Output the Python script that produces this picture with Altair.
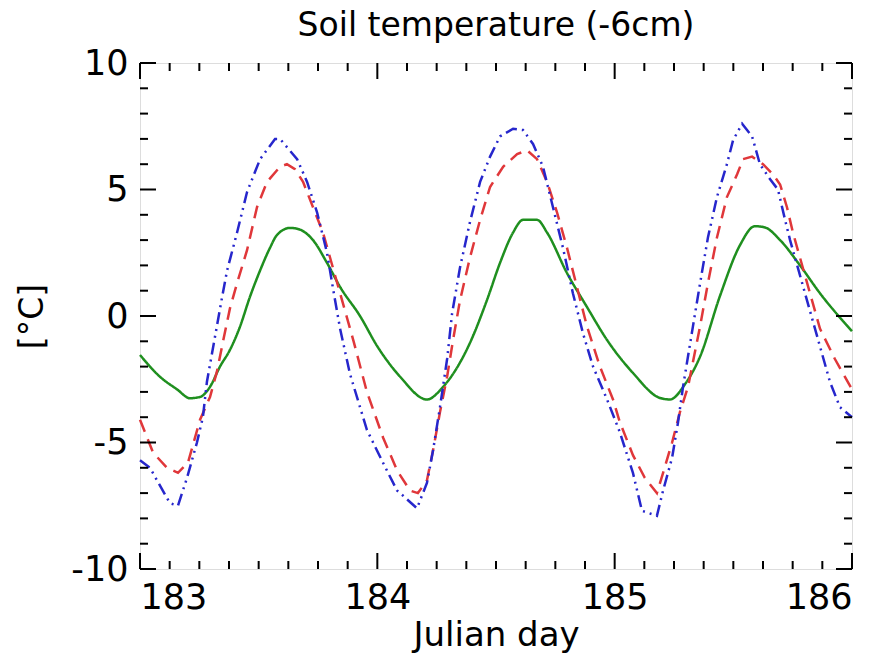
import altair as alt
import pandas as pd

# ---------------- data ----------------
blue_day = [183.000, 183.042, 183.126, 183.160, 183.198, 183.240, 183.265, 183.282, 183.324, 183.346,
            183.367, 183.409, 183.451, 183.506, 183.569, 183.590, 183.662, 183.704, 183.746, 183.788,
            183.813, 183.843, 183.885, 183.956, 184.024, 184.083, 184.096, 184.167, 184.209, 184.235,
            184.264, 184.294, 184.315, 184.348, 184.390, 184.433, 184.475, 184.517, 184.572, 184.614,
            184.656, 184.698, 184.740, 184.782, 184.824, 184.867, 184.909, 184.968, 185.022, 185.077,
            185.115, 185.178, 185.204, 185.242, 185.267, 185.288, 185.330, 185.360, 185.393, 185.431,
            185.473, 185.499, 185.537, 185.579, 185.612, 185.655, 185.688, 185.718, 185.739, 185.823,
            185.907, 185.949, 186.000]
blue_temp = [-5.7, -6.0, -7.4, -7.5, -6.4, -5.0, -4.0, -2.6, -0.4, 0.75,
             1.8, 3.3, 4.9, 6.2, 7.0, 7.0, 6.2, 5.3, 4.1, 2.5,
             1.1, -0.5, -2.3, -4.5, -5.8, -6.9, -7.0, -7.6, -6.6, -5.3,
             -3.6, -1.7, 0.1, 1.9, 3.7, 5.3, 6.3, 7.1, 7.4, 7.35,
             6.8, 5.9, 4.3, 2.7, 0.9, -0.7, -2.0, -3.3, -4.6, -6.2,
             -7.7, -7.9, -6.9, -5.6, -4.2, -2.8, -0.4, 1.3, 3.1, 4.7,
             6.0, 6.95, 7.6, 7.1, 6.0, 5.4, 5.0, 3.8, 3.0, 0.2,
             -2.6, -3.6, -4.0]

red_day = [183.000, 183.055, 183.114, 183.160, 183.202, 183.253, 183.295, 183.324, 183.350, 183.379,
           183.409, 183.451, 183.493, 183.535, 183.590, 183.619, 183.653, 183.687, 183.729, 183.771,
           183.813, 183.843, 183.900, 183.956, 184.024, 184.083, 184.138, 184.171, 184.209, 184.235,
           184.264, 184.294, 184.319, 184.348, 184.390, 184.433, 184.475, 184.530, 184.589, 184.631,
           184.673, 184.715, 184.757, 184.799, 184.841, 184.883, 184.938, 184.993, 185.022, 185.077,
           185.127, 185.178, 185.204, 185.242, 185.275, 185.309, 185.360, 185.393, 185.431, 185.473,
           185.516, 185.541, 185.579, 185.625, 185.667, 185.697, 185.726, 185.751, 185.865, 185.928,
           186.000]
red_temp = [-4.1, -5.4, -6.0, -6.2, -5.8, -4.1, -3.2, -2.2, -1.0, 0.3,
            1.3, 2.6, 4.3, 5.3, 5.9, 6.0, 5.8, 5.3, 4.3, 3.3,
            1.9, 0.9, -1.0, -3.0, -4.8, -6.1, -6.9, -7.0, -6.5, -5.3,
            -3.8, -2.4, -0.95, 0.6, 2.3, 3.8, 5.1, 5.9, 6.4, 6.55,
            6.2, 5.3, 4.1, 2.7, 1.15, -0.4, -2.0, -3.3, -4.2, -5.5,
            -6.4, -7.0, -6.2, -5.0, -3.8, -2.8, -0.4, 1.3, 3.1, 4.7,
            5.6, 6.2, 6.3, 6.0, 5.6, 5.2, 4.3, 3.3, -0.5, -1.7,
            -2.9]

green_day = [183.000, 183.084, 183.156, 183.211, 183.253, 183.295, 183.337, 183.379, 183.421, 183.463,
             183.506, 183.548, 183.577, 183.632, 183.662, 183.729, 183.788, 183.843, 183.927, 184.000,
             184.096, 184.209, 184.277, 184.390, 184.462, 184.517, 184.572, 184.614, 184.673, 184.715,
             184.799, 184.883, 184.968, 185.077, 185.191, 185.233, 185.296, 185.360, 185.444, 185.528,
             185.591, 185.633, 185.697, 185.781, 185.865, 186.000]
green_temp = [-1.54, -2.4, -2.9, -3.25, -3.2, -2.8, -2.0, -1.34, -0.43, 0.75,
              1.8, 2.7, 3.2, 3.48, 3.45, 3.0, 2.1, 1.15, 0.0, -1.2,
              -2.4, -3.3, -2.8, -1.07, 0.63, 2.1, 3.3, 3.8, 3.8, 3.3,
              1.7, 0.36, -0.95, -2.25, -3.24, -3.3, -2.7, -1.6, 0.8, 2.8,
              3.55, 3.5, 3.0, 2.0, 0.9, -0.6]

x_major = [183, 184, 185, 186]
x_minor = [183.125, 183.25, 183.375, 183.5, 183.625, 183.75, 183.875,
           184.125, 184.25, 184.375, 184.5, 184.625, 184.75, 184.875,
           185.125, 185.25, 185.375, 185.5, 185.625, 185.75, 185.875]
y_major = [-10, -5, 0, 5, 10]
y_minor = [-9, -8, -7, -6, -4, -3, -2, -1, 1, 2, 3, 4, 6, 7, 8, 9]

# ---------------- styling ----------------
W, H = 712, 506
FONT = "DejaVu Sans"
MAJ, MIN = 16, 8

blue_df = pd.DataFrame({"day": blue_day, "temp": blue_temp})
red_df = pd.DataFrame({"day": red_day, "temp": red_temp})
green_df = pd.DataFrame({"day": green_day, "temp": green_temp})

xs = alt.Scale(domain=[183, 186], nice=False, zero=False)
ys = alt.Scale(domain=[-10, 10], nice=False, zero=False)

x_axis = alt.Axis(values=x_major, labelExpr="'' + datum.value", title="Julian day", ticks=False, tickSize=0,
                  domain=False, grid=False, labelPadding=11, labelFontSize=35, labelFont=FONT,
                  labelColor="black", titleFont=FONT, titleFontSize=34, titleFontWeight="normal",
                  titleColor="black", titleX=W / 2, titleY=76, titleBaseline="alphabetic",
                  titleAlign="center")
y_axis = alt.Axis(values=y_major, labelExpr="'' + datum.value", title="[°C]", ticks=False, tickSize=0,
                  domain=False, grid=False, labelPadding=12, labelFontSize=35, labelFont=FONT,
                  labelColor="black", titleFont=FONT, titleFontSize=33, titleFontWeight="normal",
                  titleColor="black", titleX=-108, titleY=H / 2, titleAngle=-90,
                  titleBaseline="middle", titleAlign="center")


def series(df, color, dash, interp):
    m = alt.Chart(df).mark_line(color=color, strokeWidth=2.5, strokeDash=dash,
                                interpolate=interp, strokeCap="butt")
    return m.encode(
        x=alt.X("day:Q", scale=xs, axis=x_axis),
        y=alt.Y("temp:Q", scale=ys, axis=y_axis),
    )


green = series(green_df, "#1f8f1f", [1, 0], "monotone")
red = series(red_df, "#e0373a", [13, 8], "linear")
blue = series(blue_df, "#2626cc", [12, 5, 2, 5, 2, 5], "linear")


def xticks(vals, length):
    df = pd.DataFrame({"day": vals})
    base = alt.Chart(df).mark_rule(color="black", strokeWidth=2)
    bottom = base.encode(x=alt.X("day:Q", scale=xs, axis=x_axis), y=alt.value(H), y2=alt.value(H - length))
    top = base.encode(x=alt.X("day:Q", scale=xs, axis=x_axis), y=alt.value(0), y2=alt.value(length))
    return [bottom, top]


def yticks(vals, length):
    df = pd.DataFrame({"temp": vals})
    base = alt.Chart(df).mark_rule(color="black", strokeWidth=2)
    left = base.encode(y=alt.Y("temp:Q", scale=ys, axis=y_axis), x=alt.value(0), x2=alt.value(length))
    right = base.encode(y=alt.Y("temp:Q", scale=ys, axis=y_axis), x=alt.value(W), x2=alt.value(W - length))
    return [left, right]


layers = [green, red, blue] + xticks(x_major, MAJ) + xticks(x_minor, MIN) + yticks(y_major, MAJ) + yticks(y_minor, MIN)

chart = alt.layer(*layers).properties(
    width=W, height=H,
    title=alt.TitleParams("Soil temperature (-6cm)", font=FONT, fontSize=33, fontWeight="normal",
                          color="black", anchor="middle", offset=26, baseline="alphabetic",
                          frame="group", dy=49),
    autosize=alt.AutoSizeParams(type="none"),
    padding={"left": 140, "top": 63, "right": 34, "bottom": 85},
).configure_view(stroke="black", strokeWidth=2.5).configure(background="white")

chart.save("out.html", embed_options={"renderer": "svg", "actions": False})
